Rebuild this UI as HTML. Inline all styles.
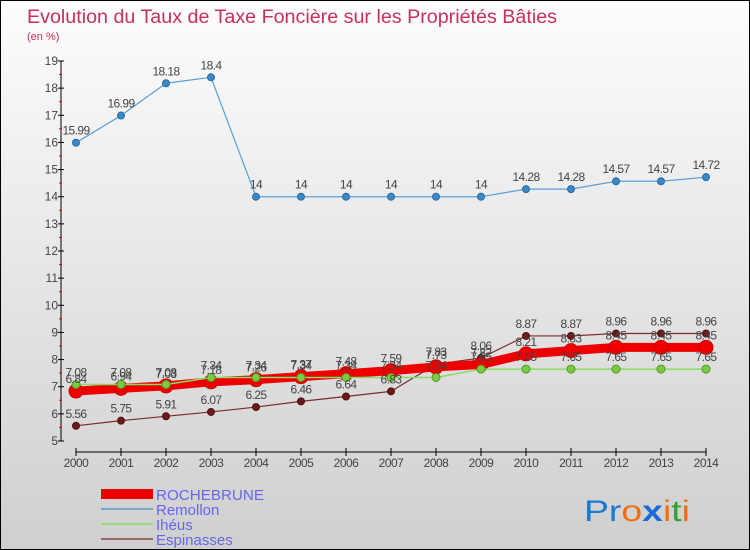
<!DOCTYPE html>
<html><head><meta charset="utf-8"><style>
body{margin:0}
#c{width:750px;height:550px;position:relative;overflow:hidden;font-family:"Liberation Sans",sans-serif;background:linear-gradient(#fdfdfd,#cfcfcf);border:1px solid #000;box-sizing:border-box}
</style></head><body>
<div id="c">
<svg id="s" width="750" height="550" xmlns="http://www.w3.org/2000/svg" style="position:absolute;left:0;top:0">
<text x="26" y="22" font-size="19" fill="#c8305a" textLength="530" lengthAdjust="spacingAndGlyphs">Evolution du Taux de Taxe Foncière sur les Propriétés Bâties</text>
<text x="26" y="39" font-size="11" fill="#c8305a">(en %)</text>
<g id="axes"></g><g id="series"></g><g id="labels"></g>
<g>
<rect x="100" y="488" width="52" height="10" fill="#e00"/>
<text x="155" y="499" font-size="15" fill="#6666ee" textLength="108" lengthAdjust="spacingAndGlyphs">ROCHEBRUNE</text>
<line x1="100" y1="508" x2="152" y2="508" stroke="#7aa8cc" stroke-width="2"/>
<text x="155" y="514" font-size="15" fill="#6666ee">Remollon</text>
<line x1="100" y1="523" x2="152" y2="523" stroke="#99dd77" stroke-width="2"/>
<text x="155" y="529" font-size="15" fill="#6666ee">Ihéus</text>
<line x1="100" y1="538" x2="152" y2="538" stroke="#996666" stroke-width="2"/>
<text x="155" y="544" font-size="15" fill="#6666ee">Espinasses</text>
</g>
<g font-size="30" font-family="Liberation Sans, sans-serif">
<text x="583" y="520" textLength="106" lengthAdjust="spacingAndGlyphs"><tspan fill="#1a7ad0">Pr</tspan><tspan fill="#f07010">o</tspan><tspan fill="#1a6ad8" font-weight="bold">x</tspan><tspan fill="#f07010">i</tspan><tspan fill="#30a030">t</tspan><tspan fill="#f07010">i</tspan></text>
</g>
</svg>
</div>
<script>
const years=[2000,2001,2002,2003,2004,2005,2006,2007,2008,2009,2010,2011,2012,2013,2014];
const rochebrune=[6.84,6.94,7.03,7.18,7.26,7.37,7.48,7.59,7.73,7.82,8.21,8.33,8.45,8.45,8.45];
const remollon=[15.99,16.99,18.18,18.4,14,14,14,14,14,14,14.28,14.28,14.57,14.57,14.72];
const iheus=[7.08,7.08,7.08,7.34,7.34,7.34,7.34,7.34,7.34,7.65,7.65,7.65,7.65,7.65,7.65];
const espinasses=[5.56,5.75,5.91,6.07,6.25,6.46,6.64,6.83,7.83,8.06,8.87,8.87,8.96,8.96,8.96];
const yTicks=[5,6,7,8,9,10,11,12,13,14,15,16,17,18,19];
const NS="http://www.w3.org/2000/svg";
const X=i=>75+i*45, Y=v=>440-(v-5)*(380/14);
function mk(p,t,a){const e=document.createElementNS(NS,t);for(const k in a)e.setAttribute(k,a[k]);p.appendChild(e);return e;}
const ax=document.getElementById('axes'),se=document.getElementById('series'),lb=document.getElementById('labels');
const ya=mk(ax,'line',{x1:60,y1:Y(19),x2:60,y2:Y(5),stroke:'#000'});


yTicks.forEach(v=>{mk(ax,'line',{x1:57,y1:Y(v),x2:63,y2:Y(v),stroke:'#000'});
 if(v<19)mk(ax,'line',{x1:58,y1:Y(v+0.5),x2:61,y2:Y(v+0.5),stroke:'#e00'});
 const t=mk(ax,'text',{x:57,y:Y(v)+4,'font-size':12,fill:'#444','text-anchor':'end'});t.textContent=v;
 
 });
const xa=mk(ax,'line',{x1:X(0),y1:451,x2:X(14),y2:451,stroke:'#000'});


years.forEach((y,i)=>{mk(ax,'line',{x1:X(i),y1:447,x2:X(i),y2:455,stroke:'#000'});
 const t=mk(ax,'text',{x:X(i),y:466,'font-size':12,fill:'#444','text-anchor':'middle','letter-spacing':'-0.5'});t.textContent=y;
 
 });
function series(d,name,col,w,r,dot,dotStroke){
 const g=mk(se,'g',{});
 
 
 mk(g,'polyline',{points:d.map((v,i)=>X(i)+','+Y(v)).join(' '),fill:'none',stroke:col,'stroke-width':w,'stroke-linejoin':'round'});
 d.forEach((v,i)=>{const c=mk(g,'circle',{cx:X(i),cy:Y(v),r:r,fill:dot,stroke:dotStroke,'stroke-width':1});
  
  
  const t=mk(lb,'text',{x:X(i),y:Y(v)-8,'font-size':12,fill:'#444','text-anchor':'middle','letter-spacing':'-0.6'});t.textContent=v;
  
  });
}
series(remollon,'remollon','#5a9fd6',1.2,3.5,'#3a88c8','#2a6aa0');
series(espinasses,'espinasses','#7a2a2a',1.2,3.5,'#6a1a1a','#501010');
series(rochebrune,'rochebrune','#ee0000',9,7,'#ee0000','#c00');
series(iheus,'iheus','#88dd66',1.5,4,'#77cc44','#559922');
</script>
</body></html>
